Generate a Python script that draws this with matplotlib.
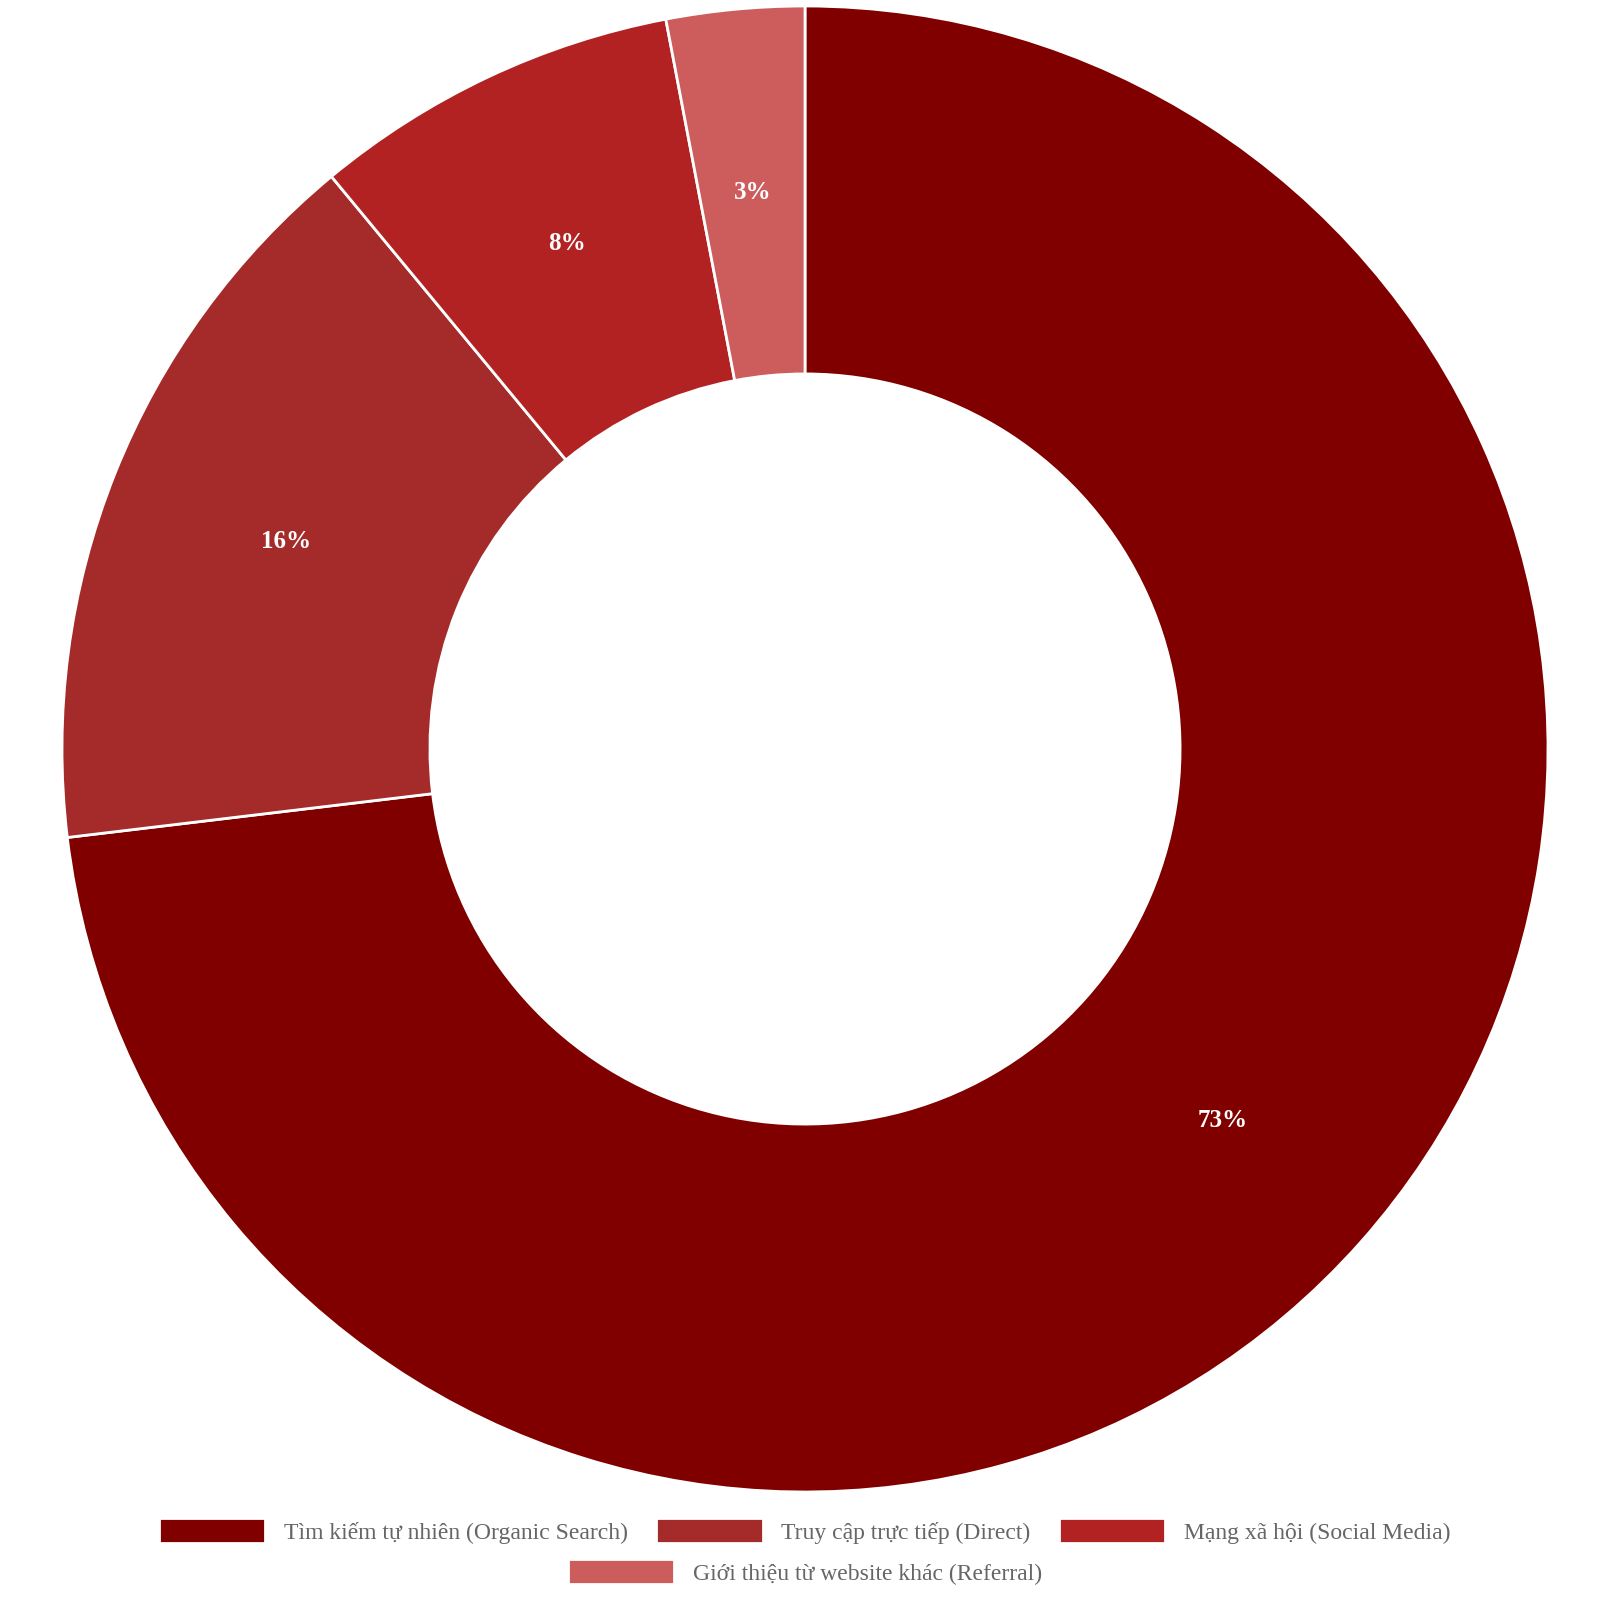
import matplotlib
matplotlib.use("Agg")
import matplotlib.pyplot as plt
import numpy as np

categories = ["Tìm kiếm tự nhiên (Organic Search)", "Truy cập trực tiếp (Direct)",
              "Mạng xã hội (Social Media)", "Giới thiệu từ website khác (Referral)"]
values = [73.1, 15.9, 8.0, 3.0]
colors = ["#800000", "#A52A2A", "#B22222", "#CD5C5C"]

plt.rcParams['font.family'] = ['Liberation Serif', 'DejaVu Serif']
fig = plt.figure(figsize=(16, 16), dpi=100)
ax = fig.add_axes([62/1600, 108/1600, 1486/1600, 1486/1600])
wedges, _ = ax.pie(values, colors=colors, startangle=90, counterclock=False,
                   radius=1.0, wedgeprops=dict(width=1 - 367/727, edgecolor="white", linewidth=2))
total = sum(values)
ang = 90.0
rmid = (1 + 367/727) / 2
for v in values:
    a = np.deg2rad(ang - v / total * 180)
    ax.text(rmid*np.cos(a), rmid*np.sin(a), f"{round(v)}%", color="white",
            fontsize=18, fontweight="bold", ha="center", va="center")
    ang -= v / total * 360
ax.set_xlim(-1, 1); ax.set_ylim(-1, 1); ax.set_aspect("equal"); ax.axis("off")
kw = dict(frameon=False, fontsize=17, handlelength=4.5, handleheight=1.2,
          columnspacing=1.2, labelcolor="#666666", loc="center")
leg1 = fig.legend(wedges[:3], categories[:3], ncol=3, bbox_to_anchor=(0.503, 1600 - 1530), 
                  bbox_transform=None, **kw)
leg1.set_bbox_to_anchor((0.503, (1600 - 1531) / 1600), transform=fig.transFigure)
leg2 = fig.legend(wedges[3:], categories[3:], ncol=1, **kw)
leg2.set_bbox_to_anchor((0.503, (1600 - 1572) / 1600), transform=fig.transFigure)
fig.savefig("out.png", dpi=100, facecolor="white")
